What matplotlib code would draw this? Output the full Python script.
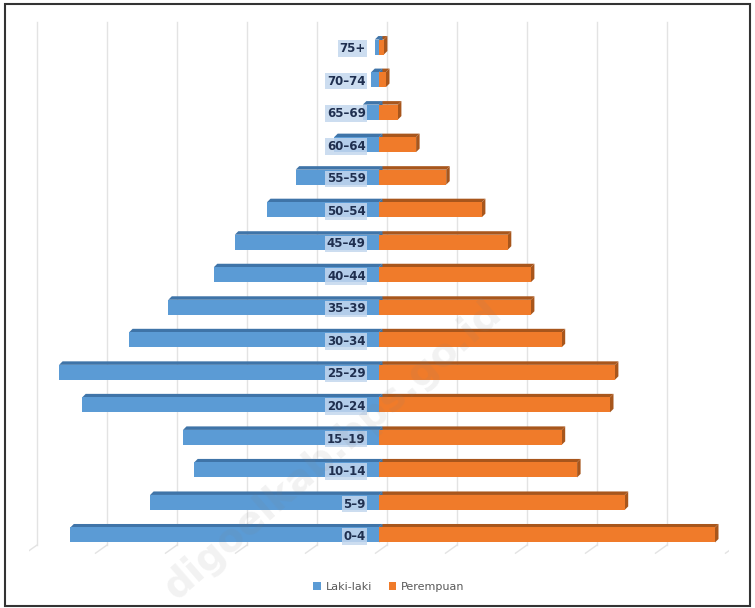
import numpy as np
import matplotlib.pyplot as plt
from matplotlib.patches import Polygon, Rectangle
from matplotlib.lines import Line2D

# age groups, bottom to top
ages = ["0–4", "5–9", "10–14", "15–19", "20–24", "25–29", "30–34", "35–39",
        "40–44", "45–49", "50–54", "55–59", "60–64", "65–69", "70–74", "75+"]
# values (thousands, gridline = 1)
laki = [4.41, 3.27, 2.64, 2.80, 4.24, 4.57, 3.57, 3.01,
        2.36, 2.06, 1.60, 1.19, 0.64, 0.23, 0.11, 0.06]
perempuan = [4.80, 3.51, 2.83, 2.61, 3.30, 3.37, 2.61, 2.17,
             2.17, 1.84, 1.47, 0.96, 0.53, 0.27, 0.10, 0.07]

blue, blue_dk = "#5b9bd5", "#3f74a8"
orange, orange_dk = "#f07b2a", "#a8561c"

fig = plt.figure(figsize=(7.55, 6.08), dpi=100)
ax = fig.add_axes([29/755, (608-567.5)/608, 700/755, 553/608])
ax.set_xlim(-5, 5)
ax.set_ylim(-1, 16)
ax.axis("off")

# 3d-ish gridlines on the back wall
off_x = 8/70
gc = "#e3e3e3"
for k in range(-5, 6):
    ax.add_line(Line2D([k+off_x, k+off_x], [-0.31, 15.78], color=gc, lw=1, zorder=0))
    ax.add_line(Line2D([k+off_x, k-0.05], [-0.31, -0.56], color=gc, lw=1, zorder=0))
ax.add_line(Line2D([-5+off_x-0.17, -5+off_x-0.17], [-0.6, 15.45], color="#ececec", lw=1, zorder=0))

y = np.arange(len(ages))
h = 0.46
dx, dy = 3.5/70, 3.5/32.5

def bar3d(x0, x1, yc, face, dark):
    yb, yt = yc - h/2, yc + h/2
    ax.add_patch(Polygon([(x0, yt), (x1, yt), (x1+dx, yt+dy), (x0+dx, yt+dy)],
                         closed=True, fc=dark, ec="none", zorder=2))
    ax.add_patch(Polygon([(x1, yb), (x1, yt), (x1+dx, yt+dy), (x1+dx, yb+dy)],
                         closed=True, fc=dark, ec="none", zorder=2))
    ax.add_patch(Rectangle((x0, yb), x1-x0, h, fc=face, ec="none", zorder=3))

for i in range(len(ages)):
    bar3d(0, perempuan[i], y[i], orange, orange_dk)
    bar3d(-laki[i], 0, y[i], blue, blue_dk)
    ax.text(-0.19, y[i]-0.05, ages[i], ha="right", va="center", fontsize=8.5,
            fontweight="bold", color="#1f2f4f", zorder=5,
            bbox=dict(boxstyle="square,pad=0.15", fc="#c3d7ee", ec="none", alpha=0.85))

# watermark
fig.text(0.44, 0.26, "digoelkab.bps.go.id", rotation=41, fontsize=28,
         fontweight="bold", color="gray", alpha=0.1, ha="center", va="center")

handles = [Rectangle((0, 0), 1, 1, fc=blue), Rectangle((0, 0), 1, 1, fc=orange)]
fig.legend(handles, ["Laki-laki", "Perempuan"], loc="center", bbox_to_anchor=(0.515, 1-587/608),
           ncol=2, frameon=False, fontsize=8, handlelength=0.7, handleheight=0.7,
           handletextpad=0.4, columnspacing=1.5, labelcolor="#595959")

fig.add_artist(Rectangle((5/755, 1-606/608), 745/755, 602/608, transform=fig.transFigure,
                         fill=False, ec="#333333", lw=1.5))

fig.savefig("out.png", dpi=100)
